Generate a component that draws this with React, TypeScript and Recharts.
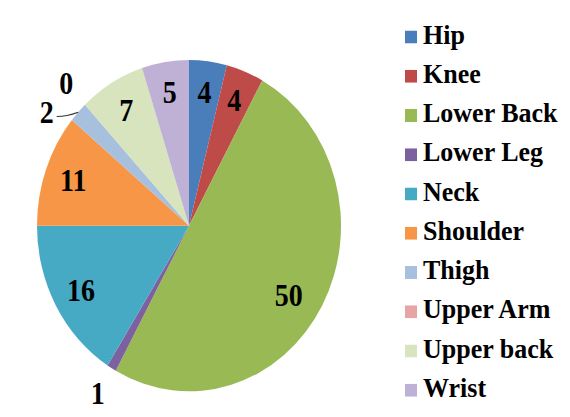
import { Cell, Legend, Pie, PieChart } from 'recharts';

const regions = ['Hip', 'Knee', 'Lower Back', 'Lower Leg', 'Neck', 'Shoulder', 'Thigh', 'Upper Arm', 'Upper back', 'Wrist'];
const shares = [4, 4, 50, 1, 16, 11, 2, 0, 7, 5];
const colors = ['#4a7ebb', '#be4b48', '#98b954', '#7d60a0', '#46aac5', '#f79646', '#a7c0de', '#e6a5a4', '#d7e4bd', '#bfb1d5'];

const data = regions.map((name, i) => ({ name, value: shares[i], fill: colors[i] }));

const RADIAN = Math.PI / 180;
const FONT = '"Liberation Serif", "Times New Roman", serif';

// small slices get pushed outside, like Excel's best fit
const renderLabel = (props: any) => {
  const { cx, cy, midAngle, outerRadius, value, name } = props;
  const outside = value <= 2;
  let angle = midAngle;
  let r = outside ? outerRadius * 1.18 : outerRadius * 0.81;
  if (name === 'Thigh') {
    angle = midAngle + 7;
    r = outerRadius * 1.16;
  }
  if (name === 'Lower Back') {
    angle = midAngle - 4;
    r = outerRadius * 0.78;
  }
  const x = cx + r * Math.cos(-angle * RADIAN);
  const y = cy + r * Math.sin(-angle * RADIAN);
  const ex = cx + outerRadius * Math.cos(-midAngle * RADIAN);
  const ey = cy + outerRadius * Math.sin(-midAngle * RADIAN);
  return (
    <g>
      {name === 'Thigh' && (
        <path d={`M${x + 10},${y + 4} Q${x + 20},${y + 4} ${ex},${ey}`} stroke="#333" strokeWidth={1} fill="none" />
      )}
      <text
        x={x}
        y={y}
        textAnchor="middle"
        dominantBaseline="central"
        fill="#000"
        fontFamily={FONT}
        fontWeight="bold"
        fontSize={28}
      >
        {value}
      </text>
    </g>
  );
};

const App = () => {
  return (
    <div
      style={{
        position: 'absolute',
        top: 0,
        left: 0,
        width: 570,
        height: 383,
        transform: 'scaleY(1.09)',
        transformOrigin: 'top left',
        background: '#fff',
      }}
    >
      <PieChart width={570} height={383}>
        <Legend
          layout="vertical"
          align="right"
          verticalAlign="top"
          iconType="square"
          iconSize={12}
          wrapperStyle={{ top: 14, left: 405, width: 170, lineHeight: '36px', fontFamily: FONT, fontWeight: 'bold', fontSize: 26 }}
          formatter={(value: string) => <span style={{ color: '#000', marginLeft: 2 }}>{value}</span>}
        />
        <Pie
          data={data}
          dataKey="value"
          nameKey="name"
          cx={184}
          cy={202}
          outerRadius={152}
          startAngle={90}
          endAngle={-270}
          stroke="none"
          label={renderLabel}
          labelLine={false}
          isAnimationActive={false}
        >
          {data.map((entry) => (
            <Cell key={entry.name} fill={entry.fill} />
          ))}
        </Pie>
      </PieChart>
    </div>
  );
};

export default App;
